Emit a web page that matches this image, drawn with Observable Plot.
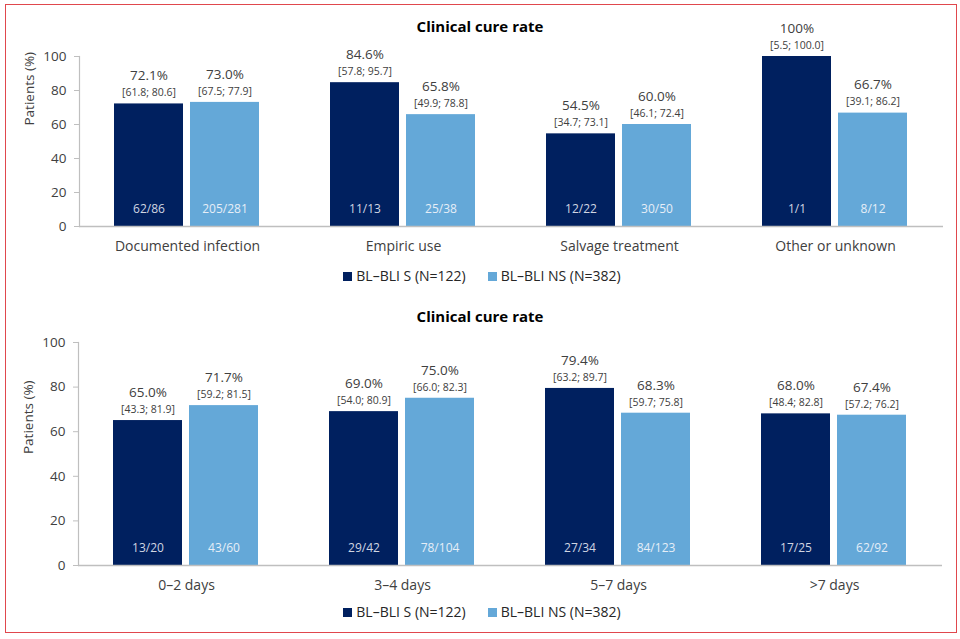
<!DOCTYPE html>
<html>
<head>
<meta charset="utf-8">
<script src="https://cdn.jsdelivr.net/npm/d3@7"></script>
<script src="https://cdn.jsdelivr.net/npm/@observablehq/plot@0.6"></script>
<style>
  html, body { margin: 0; padding: 0; background: #fff; }
  body { width: 960px; height: 639px; position: relative; overflow: hidden; font-family: "Open Sans", sans-serif; }
  .abs { position: absolute; }
  .title { left: 0; width: 960px; text-align: center; font-weight: 700; font-size: 15px; line-height: 20px; color: #000; }
  .legend { left: 0; width: 960px; display: flex; justify-content: center; align-items: center; font-size: 14px; line-height: 20px; color: #262626; padding-left: 4px; box-sizing: border-box; }
  .legend .item { display: flex; align-items: center; margin: 0 11px; }
  .legend .sw { width: 9px; height: 9px; margin-right: 4px; display: inline-block; }
  .border { left: 5px; top: 4px; width: 950px; height: 627px; border: 1.5px solid #e0474d; pointer-events: none; }
</style>
</head>
<body>
<script>
// ---- data ----
const seriesKeys = ["S", "NS"];
const seriesNames = ["BL–BLI S (N=122)", "BL–BLI NS (N=382)"];
const seriesColors = ["#00205f", "#64a8d8"];
const yTicks = [0, 20, 40, 60, 80, 100];
const chartTitle = "Clinical cure rate";
const yLabel = "Patients (%)";

// Panel 1: by indication
const groups1 = ["Documented infection", "Empiric use", "Salvage treatment", "Other or unknown"];
const valS1 = [72.1, 84.6, 54.5, 100];
const valNS1 = [73.0, 65.8, 60.0, 66.7];
const ciS1 = ["[61.8; 80.6]", "[57.8; 95.7]", "[34.7; 73.1]", "[5.5; 100.0]"];
const ciNS1 = ["[67.5; 77.9]", "[49.9; 78.8]", "[46.1; 72.4]", "[39.1; 86.2]"];
const nS1 = ["62/86", "11/13", "12/22", "1/1"];
const nNS1 = ["205/281", "25/38", "30/50", "8/12"];

// Panel 2: by duration
const groups2 = ["0–2 days", "3–4 days", "5–7 days", ">7 days"];
const valS2 = [65.0, 69.0, 79.4, 68.0];
const valNS2 = [71.7, 75.0, 68.3, 67.4];
const ciS2 = ["[43.3; 81.9]", "[54.0; 80.9]", "[63.2; 89.7]", "[48.4; 82.8]"];
const ciNS2 = ["[59.2; 81.5]", "[66.0; 82.3]", "[59.7; 75.8]", "[57.2; 76.2]"];
const nS2 = ["13/20", "29/42", "27/34", "17/25"];
const nNS2 = ["43/60", "78/104", "84/123", "62/92"];

const fmtPct = v => (v === 100 ? "100" : v.toFixed(1)) + "%";

function buildRows(groups, valS, valNS, ciS, ciNS, nS, nNS) {
  return groups.flatMap((g, i) => [
    {group: g, series: "S", value: valS[i], ci: ciS[i], n: nS[i]},
    {group: g, series: "NS", value: valNS[i], ci: ciNS[i], n: nNS[i]}
  ]);
}

function panel(groups, rows, {height, marginTop, marginLeft, labelDy}) {
  return Plot.plot({
    width: 960,
    height,
    marginTop,
    marginBottom: 40,
    marginLeft,
    marginRight: 17,
    style: {background: "transparent", fontFamily: "Open Sans, sans-serif", fontSize: "13.5px", color: "#404040", overflow: "visible"},
    fx: {domain: groups, padding: 0, axis: null, label: null},
    x: {domain: seriesKeys, paddingInner: 0.09, paddingOuter: 0.448, axis: null},
    y: {domain: [0, 100], axis: null},
    color: {domain: seriesKeys, range: seriesColors},
    marks: [
      Plot.frame({anchor: "left", facetAnchor: "left", stroke: "#bfbfbf", strokeWidth: 1.2}),
      Plot.axisY({ticks: yTicks, tickSize: 5, tickPadding: 8, fontSize: 13.5, stroke: "#bfbfbf", fill: "#404040", label: null}),
      Plot.text([yLabel], {frameAnchor: "left", facetAnchor: "left", rotate: -90, dx: -50, dy: labelDy,
        fontSize: 13.5, fill: "#404040"}),
      Plot.axisFx({anchor: "bottom", tickSize: 0, tickPadding: 15, fontSize: 14, fill: "#404040", label: null}),
      Plot.barY(rows, {fx: "group", x: "series", y: "value", fill: "series"}),
      Plot.ruleY([0], {stroke: "#bfbfbf", strokeWidth: 1.5}),
      Plot.text(rows, {fx: "group", x: "series", y: "value", text: d => fmtPct(d.value), dy: -28, fontSize: 13.5, fill: "#404040"}),
      Plot.text(rows, {fx: "group", x: "series", y: "value", text: "ci", dy: -11, fontSize: 10.5, fill: "#404040"}),
      Plot.text(rows, {fx: "group", x: "series", frameAnchor: "bottom", text: "n", dy: -14, fontSize: 12,
        fill: d => d.series === "S" ? "#d0d6e2" : "#e6eef7"})
    ]
  });
}

function addDiv(cls, top, html) {
  const d = document.createElement("div");
  d.className = "abs " + cls;
  d.style.top = top + "px";
  d.innerHTML = html;
  document.body.appendChild(d);
  return d;
}

function legendHTML() {
  return seriesNames.map((n, i) =>
    `<span class="item"><span class="sw" style="background:${seriesColors[i]}"></span>${n}</span>`).join("");
}

const rows1 = buildRows(groups1, valS1, valNS1, ciS1, ciNS1, nS1, nNS1);
const rows2 = buildRows(groups2, valS2, valNS2, ciS2, ciNS2, nS2, nNS2);

const p1 = panel(groups1, rows1, {height: 266, marginTop: 56, marginLeft: 78, labelDy: -16});
p1.classList.add("abs"); p1.style.left = "0px"; p1.style.top = "0px";
document.body.appendChild(p1);

const p2 = panel(groups2, rows2, {height: 305, marginTop: 42, marginLeft: 77, labelDy: 0});
p2.classList.add("abs"); p2.style.left = "0px"; p2.style.top = "300px";
document.body.appendChild(p2);

addDiv("title", 16, chartTitle);
addDiv("title", 306, chartTitle);
addDiv("legend", 266, legendHTML());
addDiv("legend", 602, legendHTML());
addDiv("border", 0, "").style.top = "4px";
</script>
</body>
</html>
